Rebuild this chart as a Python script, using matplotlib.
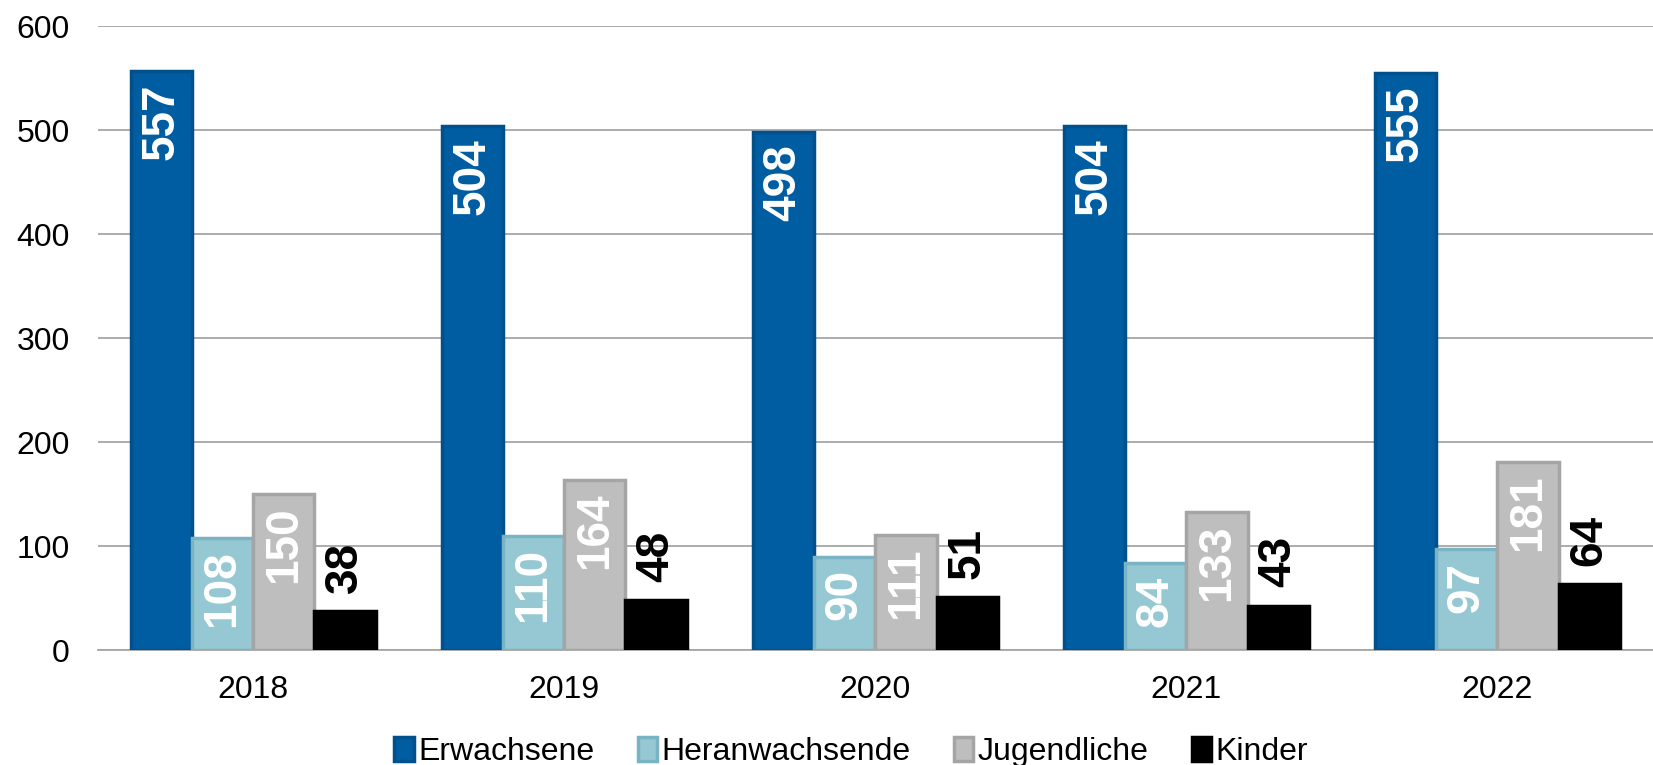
import numpy as np
import matplotlib
matplotlib.use("Agg")
import matplotlib.pyplot as plt
from matplotlib.patches import Patch

plt.rcParams['font.family'] = ['Liberation Sans', 'DejaVu Sans']

years = ["2018", "2019", "2020", "2021", "2022"]
series_names = ["Erwachsene", "Heranwachsende", "Jugendliche", "Kinder"]
erwachsene = [557, 504, 498, 504, 555]
heranwachsende = [108, 110, 90, 84, 97]
jugendliche = [150, 164, 111, 133, 181]
kinder = [38, 48, 51, 43, 64]

fills = ["#005DA2", "#96C8D3", "#BEBEBE", "#000000"]
edges = ["#00508C", "#78B4C4", "#A5A5A5", "#000000"]
label_colors = ["white", "white", "white", "black"]

fig = plt.figure(figsize=(16.53, 7.65), dpi=100)
ax = fig.add_axes([0.059, 0.150, 0.941, 0.816])

x = np.arange(len(years))
w = 0.197
all_series = [erwachsene, heranwachsende, jugendliche, kinder]
for i, vals in enumerate(all_series):
    pos = x + (i - 1.5) * w
    ax.bar(pos, vals, width=w, color=fills[i], edgecolor=edges[i],
           linewidth=2.5, zorder=3, label=series_names[i])
    for px, v in zip(pos, vals):
        if i < 3:
            ax.annotate(str(v), (px, v), xytext=(0, -9), textcoords="offset points",
                        rotation=90, ha="center", va="top", color=label_colors[i],
                        fontsize=33, fontweight="bold", zorder=4)
        else:
            ax.annotate(str(v), (px, v), xytext=(0, 13), textcoords="offset points",
                        rotation=90, ha="center", va="bottom", color=label_colors[i],
                        fontsize=33, fontweight="bold", zorder=4)

ax.set_xlim(-0.5, 4.5)
ax.set_ylim(0, 600)
ax.set_yticks(range(0, 601, 100))
ax.set_xticks(x)
ax.set_xticklabels(years)
ax.yaxis.grid(True, color="#A6A6A6", linewidth=1.3, zorder=0)
for s in ["top", "right", "left"]:
    ax.spines[s].set_visible(False)
ax.spines["bottom"].set_color("#A6A6A6")
ax.spines["bottom"].set_linewidth(1.3)
ax.tick_params(axis="both", length=0, labelsize=23)
ax.tick_params(axis="y", pad=20)
ax.tick_params(axis="x", pad=18)

handles = [Patch(facecolor=fills[i], edgecolor=edges[i], linewidth=2.5) for i in range(4)]
fig.legend(handles, series_names, loc="lower center", bbox_to_anchor=(0.515, -0.04),
           ncol=4, frameon=False, fontsize=23, handlelength=0.6, handleheight=0.8,
           handletextpad=0.15, columnspacing=1.35)

fig.savefig("out.png", dpi=100)
